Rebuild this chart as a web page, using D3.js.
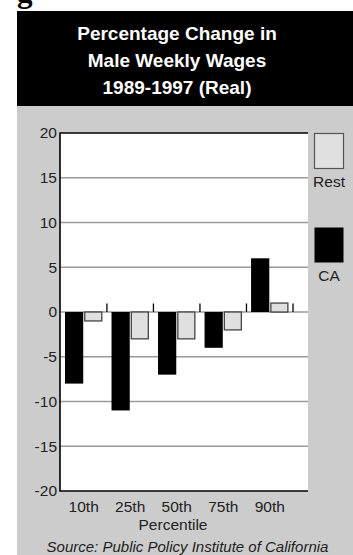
<!DOCTYPE html>
<html>
<head>
<meta charset="utf-8">
<script src="https://cdn.jsdelivr.net/npm/d3@7/dist/d3.min.js"></script>
<style>
  html, body { margin: 0; padding: 0; background: #ffffff; }
  svg { display: block; }
  text { font-family: "Liberation Sans", Arial, Helvetica, sans-serif; }
</style>
</head>
<body>
<div id="chart"></div>
<script>
// Percentile groups and wage change (%) by region
const categories = ["10th", "25th", "50th", "75th", "90th"];
const seriesNames = ["CA", "Rest"];
const caValues = [-8, -11, -7, -4, 6];
const restValues = [-1, -3, -3, -2, 1];
const yTicks = [-20, -15, -10, -5, 0, 5, 10, 15, 20];
const titleLines = ["Percentage Change in", "Male Weekly Wages", "1989-1997 (Real)"];

const W = 353, H = 555;
const svg = d3.select("#chart").append("svg")
  .attr("width", W).attr("height", H);

// Tail of the figure caption above the panel
svg.append("text")
  .attr("x", 17).attr("y", 2)
  .style("font-family", "'Liberation Serif', 'Times New Roman', serif")
  .style("font-weight", "bold")
  .style("font-size", "31px")
  .attr("fill", "#000")
  .text("g");

// Panel background and heading block
svg.append("rect").attr("x", 17).attr("y", 11).attr("width", W - 17).attr("height", 95).attr("fill", "#000");
svg.append("rect").attr("x", 17).attr("y", 106).attr("width", W - 17).attr("height", H - 106).attr("fill", "#cccccc");

svg.append("g").selectAll("text").data(titleLines).join("text")
  .attr("x", 177).attr("y", (d, i) => 39.5 + i * 27.3)
  .attr("text-anchor", "middle")
  .attr("fill", "#fff")
  .style("font-weight", "bold")
  .style("font-size", "19px")
  .text(d => d);

// Plot area
const plot = { left: 60, right: 308, top: 133, bottom: 491 };
const y = d3.scaleLinear().domain([-20, 20]).range([plot.bottom, plot.top]);
const x0 = d3.scaleBand().domain(categories).range([60.4, 293]).padding(0);
const x1 = d3.scaleBand().domain(seriesNames).range([4.6, 42]).paddingInner(0.05).paddingOuter(0);

svg.append("rect")
  .attr("x", plot.left).attr("y", plot.top)
  .attr("width", plot.right - plot.left).attr("height", plot.bottom - plot.top)
  .attr("fill", "#fff");

// Horizontal gridlines (including zero)
svg.append("g").selectAll("line").data(yTicks.filter(t => t > -20 && t < 20)).join("line")
  .attr("x1", plot.left).attr("x2", plot.right)
  .attr("y1", d => y(d)).attr("y2", d => y(d))
  .attr("stroke", "#9a9a9a").attr("stroke-width", 1.3);

// Frame: top, left, bottom
svg.append("path")
  .attr("d", `M${plot.right},${plot.top}H${plot.left}V${plot.bottom}H${plot.right}`)
  .attr("fill", "none").attr("stroke", "#000").attr("stroke-width", 1.6);

// Y axis labels (plain hyphen for negatives)
const yAxis = d3.axisLeft(y).tickValues(yTicks).tickFormat(d => String(d)).tickSize(0).tickPadding(3);
const gy = svg.append("g").attr("transform", `translate(${plot.left},0)`).call(yAxis);
gy.select(".domain").remove();
gy.selectAll("text")
  .style("font-size", "15.5px")
  .style("font-family", "'Liberation Sans', Arial, sans-serif")
  .attr("fill", "#222");

// Bars
const rows = categories.map((c, i) => ({ cat: c, CA: caValues[i], Rest: restValues[i] }));
const grp = svg.append("g").selectAll("g").data(rows).join("g")
  .attr("transform", d => `translate(${x0(d.cat)},0)`);

grp.selectAll("rect").data(d => seriesNames.map(s => ({ s, v: d[s] }))).join("rect")
  .attr("x", d => x1(d.s) + (d.s === "Rest" ? 0.6 : 0))
  .attr("width", d => x1.bandwidth() - (d.s === "Rest" ? 1.2 : 0))
  .attr("y", d => y(Math.max(0, d.v)))
  .attr("height", d => Math.abs(y(d.v) - y(0)))
  .attr("fill", d => d.s === "CA" ? "#000" : "#e0e0e0")
  .attr("stroke", d => d.s === "CA" ? "none" : "#444")
  .attr("stroke-width", 1.3);

// Group separator ticks on the zero line
svg.append("g").selectAll("line").data(categories).join("line")
  .attr("x1", d => x0(d) + x0.bandwidth()).attr("x2", d => x0(d) + x0.bandwidth())
  .attr("y1", y(0) - 8.5).attr("y2", y(0))
  .attr("stroke", "#000").attr("stroke-width", 1.3);

// X axis labels
const xAxis = d3.axisBottom(x0).tickSize(0).tickPadding(0);
const gx = svg.append("g").attr("transform", `translate(0,${plot.bottom})`).call(xAxis);
gx.select(".domain").remove();
gx.selectAll("text")
  .attr("dy", null).attr("y", 20.5)
  .style("font-size", "15.5px")
  .style("font-family", "'Liberation Sans', Arial, sans-serif")
  .attr("fill", "#222");

svg.append("text")
  .attr("x", 173).attr("y", 530)
  .attr("text-anchor", "middle")
  .attr("fill", "#222")
  .style("font-size", "15.5px")
  .text("Percentile");

svg.append("text")
  .attr("x", 187.5).attr("y", 552)
  .attr("text-anchor", "middle")
  .attr("fill", "#222")
  .style("font-size", "15px")
  .style("font-style", "italic")
  .text("Source: Public Policy Institute of California");

// Legend
const legend = [
  { name: "Rest", y: 133, fill: "#e0e0e0", stroke: "#555" },
  { name: "CA", y: 227, fill: "#000", stroke: "none" }
];
const lg = svg.append("g").selectAll("g").data(legend).join("g");
lg.append("rect")
  .attr("x", 314.5).attr("y", d => d.y + 0.5)
  .attr("width", 29).attr("height", 35)
  .attr("fill", d => d.fill).attr("stroke", d => d.stroke).attr("stroke-width", 1.2);
lg.append("text")
  .attr("x", 329).attr("y", d => d.y + 54)
  .attr("text-anchor", "middle")
  .attr("fill", "#222")
  .style("font-size", "15.5px")
  .text(d => d.name);
</script>
</body>
</html>
